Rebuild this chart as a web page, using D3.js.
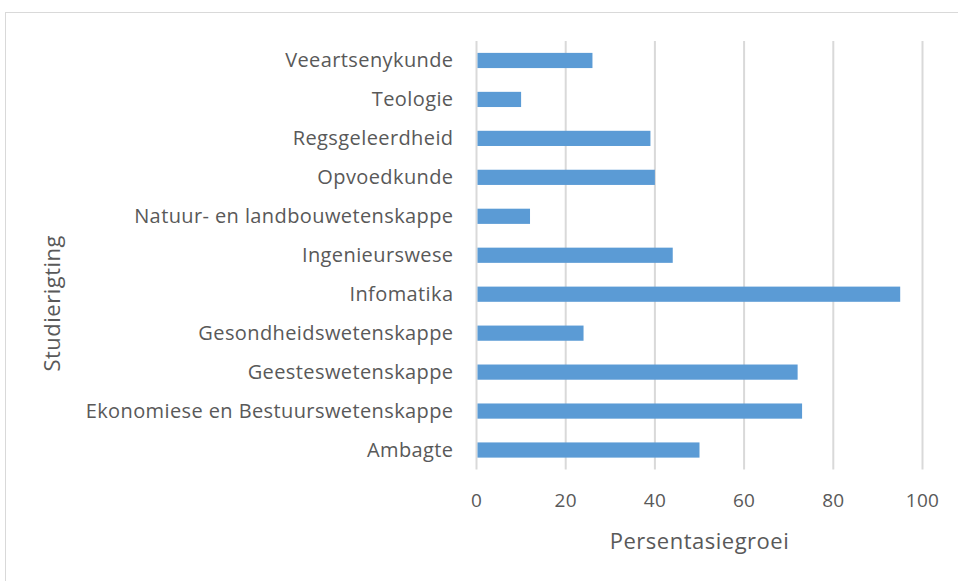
<!DOCTYPE html>
<html>
<head>
<meta charset="utf-8">
<script src="https://cdn.jsdelivr.net/npm/d3@7"></script>
<style>
  body { margin: 0; background: #fff; }
  svg { font-family: 'Open Sans', sans-serif; }
</style>
</head>
<body>
<svg id="chart" width="958" height="581"></svg>
<script>
// categories listed bottom to top, as in the chart
const categories = [
  'Ambagte',
  'Ekonomiese en Bestuurswetenskappe',
  'Geesteswetenskappe',
  'Gesondheidswetenskappe',
  'Infomatika',
  'Ingenieurswese',
  'Natuur- en landbouwetenskappe',
  'Opvoedkunde',
  'Regsgeleerdheid',
  'Teologie',
  'Veeartsenykunde'
];
const growth = [50, 73, 72, 24, 95, 44, 12, 40, 39, 10, 26];
const xTicks = [0, 20, 40, 60, 80, 100];

const svg = d3.select('#chart');
const margin = {top: 41, left: 476.5, right: 35.5, bottom: 111.5};
const width = 958 - margin.left - margin.right;
const height = 581 - margin.top - margin.bottom;

// outer chart border
svg.append('rect')
  .attr('x', 5.5).attr('y', 12.5)
  .attr('width', 960).attr('height', 580)
  .attr('fill', 'none')
  .attr('stroke', '#d9d9d9');

let g = svg.append('g')
  .attr('transform', 'translate(' + margin.left + ',' + margin.top + ')');

let x = d3.scaleLinear().domain([0, 100]).range([0, width]);
let y = d3.scaleBand()
  .domain(categories.slice().reverse())
  .range([0, height])
  .paddingInner(0.61)
  .paddingOuter(0.305);

// gridlines
g.selectAll('line.grid')
  .data(xTicks)
  .enter()
  .append('line')
  .attr('class', 'grid')
  .attr('x1', (d) => x(d))
  .attr('x2', (d) => x(d))
  .attr('y1', 0)
  .attr('y2', height)
  .attr('stroke', '#d9d9d9')
  .attr('stroke-width', 2);

g.selectAll('rect.bar')
  .data(categories)
  .enter()
  .append('rect')
  .attr('class', 'bar')
  .attr('x', x(0) + 1)
  .attr('y', (d) => y(d))
  .attr('width', (d, i) => x(growth[i]) - x(0) - 1)
  .attr('height', y.bandwidth())
  .attr('fill', '#5b9bd5');

// category labels
g.selectAll('text.cat')
  .data(categories)
  .enter()
  .append('text')
  .attr('class', 'cat')
  .attr('x', -23)
  .attr('y', (d) => y(d) + y.bandwidth() / 2)
  .attr('dy', '0.35em')
  .attr('text-anchor', 'end')
  .attr('font-size', 20)
  .attr('letter-spacing', 0.4)
  .attr('fill', '#595959')
  .text((d) => d);

// tick labels
g.selectAll('text.tick')
  .data(xTicks)
  .enter()
  .append('text')
  .attr('class', 'tick')
  .attr('x', (d) => x(d))
  .attr('y', height + 31)
  .attr('dy', '0.35em')
  .attr('text-anchor', 'middle')
  .attr('font-size', 19)
  .attr('letter-spacing', 0.3)
  .attr('fill', '#595959')
  .text((d) => d);

svg.append('text')
  .attr('x', margin.left + width / 2)
  .attr('y', 541)
  .attr('dy', '0.35em')
  .attr('text-anchor', 'middle')
  .attr('font-size', 22)
  .attr('letter-spacing', 0.5)
  .attr('fill', '#595959')
  .text('Persentasiegroei');

svg.append('text')
  .attr('transform', 'translate(52,' + (margin.top + height / 2 + 48) + ') rotate(-90)')
  .attr('dy', '0.35em')
  .attr('text-anchor', 'middle')
  .attr('font-size', 22)
  .attr('letter-spacing', 0.5)
  .attr('fill', '#595959')
  .text('Studierigting');
</script>
</body>
</html>
